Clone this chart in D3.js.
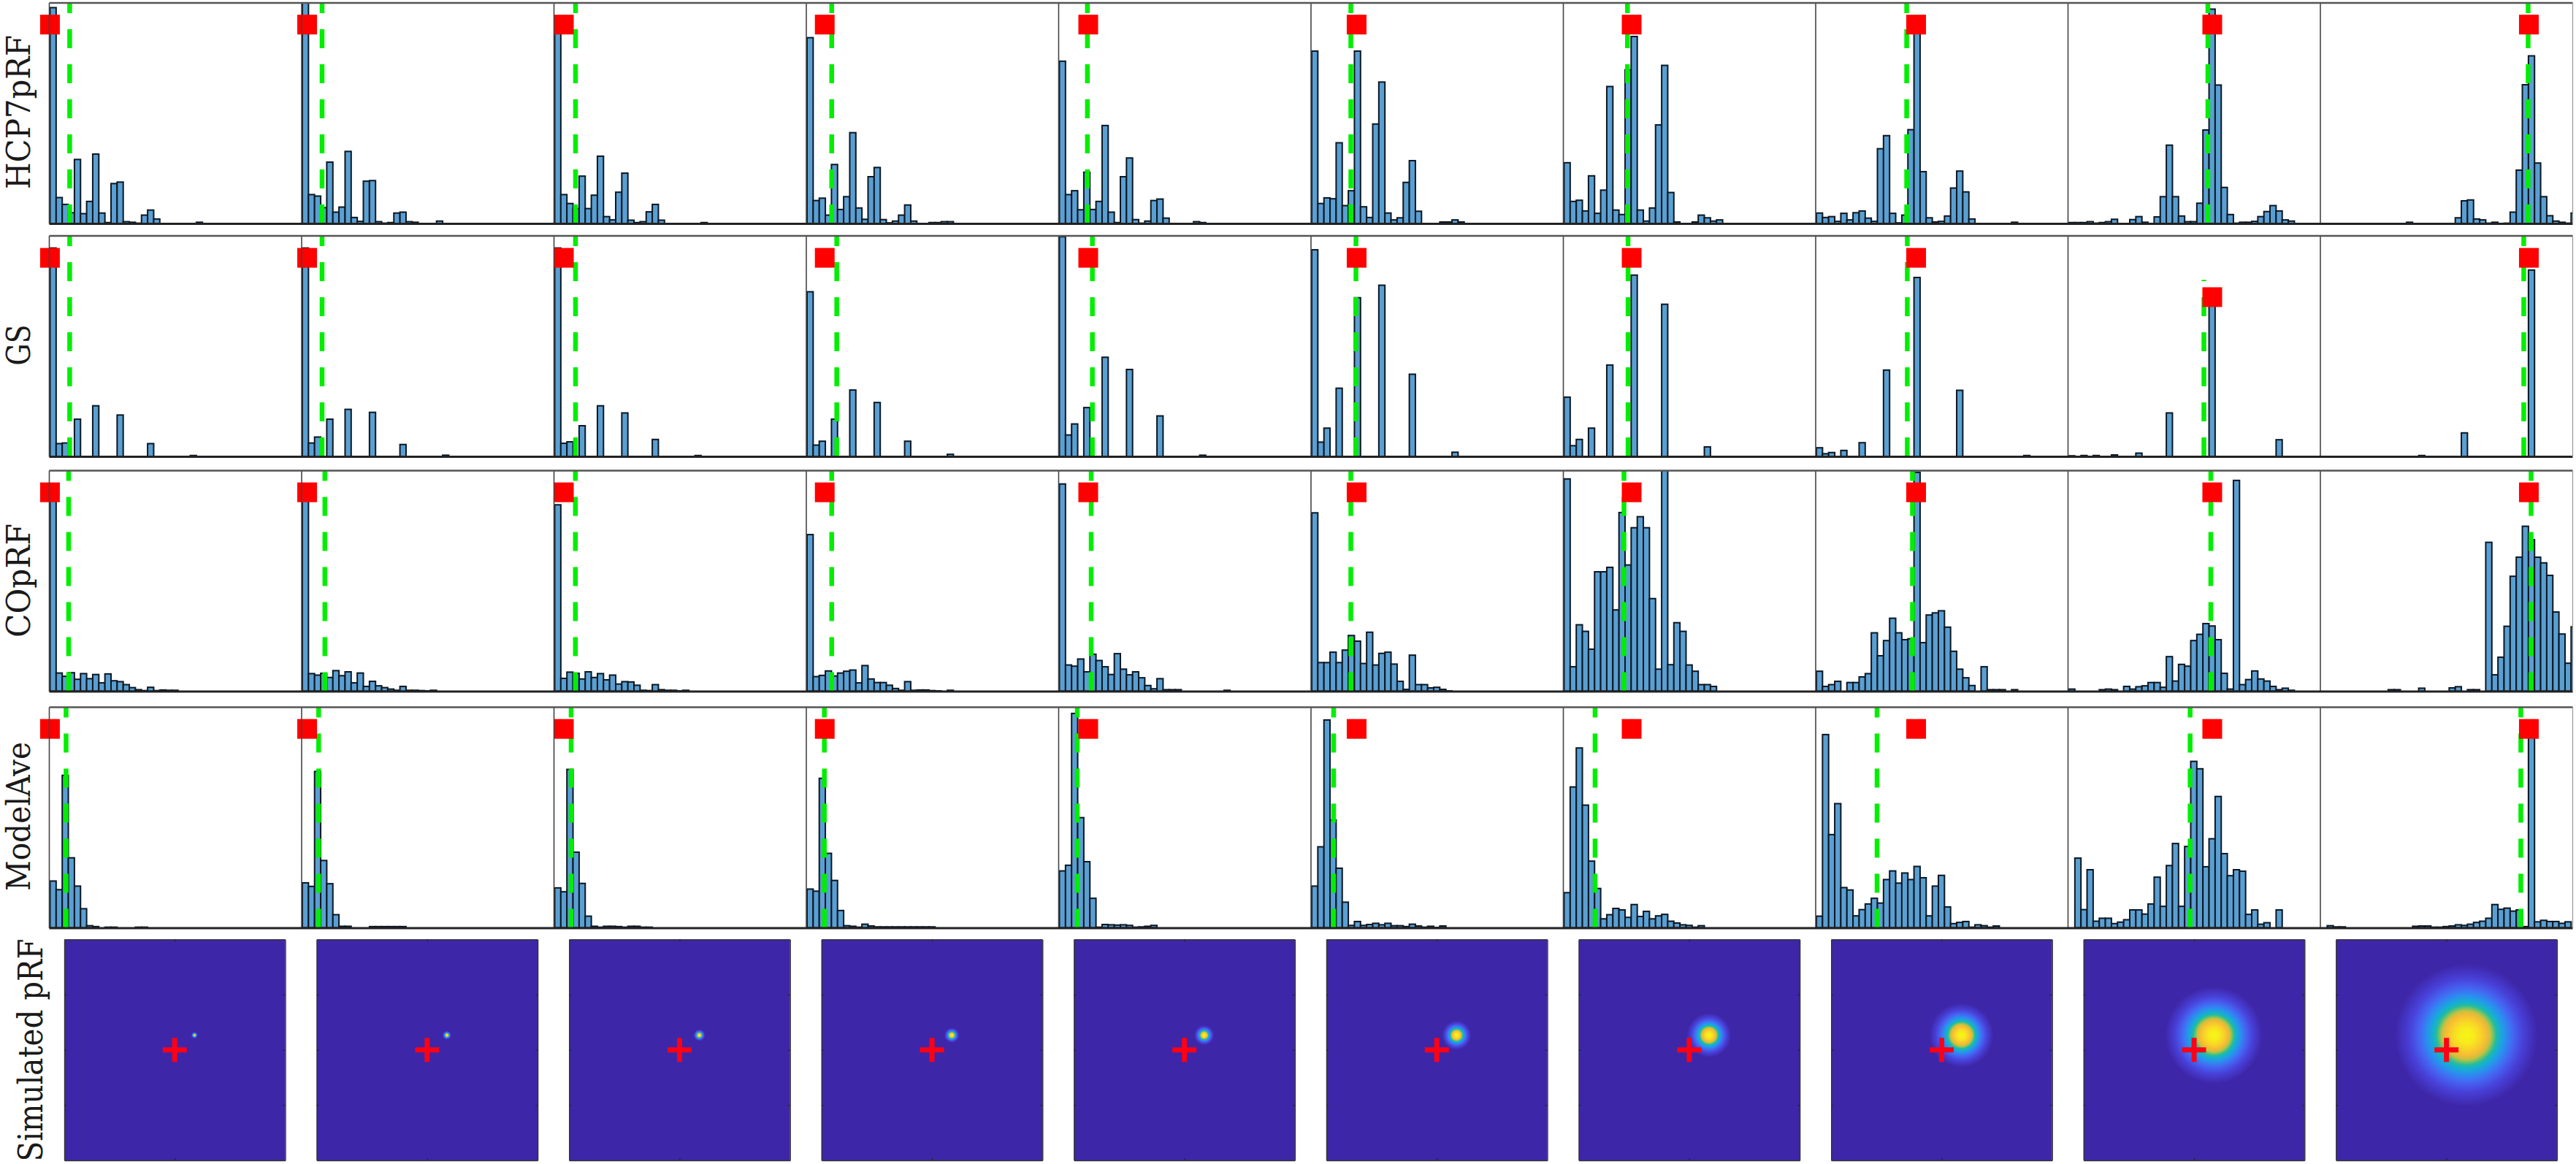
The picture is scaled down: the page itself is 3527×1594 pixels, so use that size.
<!DOCTYPE html>
<html>
<head>
<meta charset="utf-8">
<script src="https://cdn.jsdelivr.net/npm/d3@7"></script>
<style>
  html, body { margin: 0; padding: 0; background: #fff; }
  svg { display: block; }
</style>
</head>
<body>
<div id="chart"></div>
<script>
const rowNames = ["HCP7pRF", "GS", "COpRF", "ModelAve"];
const prfLabel = "Simulated pRF";

// histogram counts per panel, bin 0 first, trailing empty bins left out
const hcpBars = [
  [725,87,64,36,215,33,74,233,35,3,134,139,6,4,1,28,45,15,0,0,0,0,0,0,4],
  [760,97,92,53,206,38,55,242,20,7,142,144,6,1,3,35,38,6,4,0,0,0,8],
  [660,97,67,50,159,50,95,226,23,12,105,169,11,3,6,39,64,11,0,0,0,0,0,0,3],
  [624,77,85,28,198,47,90,305,52,14,157,188,13,2,8,28,62,8,0,0,3,3,6,6],
  [545,97,110,46,172,47,74,329,38,3,157,220,13,1,8,77,82,18,0,0,0,0,6,3],
  [579,67,86,83,271,60,110,579,56,20,334,475,35,12,19,138,211,41,0,0,0,5,5,12,5],
  [204,74,78,42,160,34,112,460,45,30,516,628,45,8,52,331,531,104,5,0,0,5,28,19,8,12],
  [35,20,23,7,34,12,36,42,18,7,251,295,34,2,28,315,670,174,19,5,7,25,119,176,106,15,0,0,0,0,0,0,4],
  [3,3,3,6,1,3,6,14,0,0,13,23,4,0,22,90,263,90,25,6,6,68,314,720,465,121,30,1,4,4,7,23,40,60,42,12,8],
  [0,0,0,0,0,0,0,0,0,0,0,0,0,0,4,0,0,0,0,0,0,0,19,76,79,15,12,1,4,0,1,38,179,466,563,203,90,26,8,4,1,35]
];

const gsBins = [0, 1, 2, 4, 7, 11, 16, 23, 34];
const gsBars = [
  [700,43,45,125,170,139,43,3,0],
  [700,45,65,125,158,148,40,4,0],
  [700,44,49,103,170,146,57,3,0],
  [553,38,51,125,223,181,51,7,0],
  [738,72,109,164,333,292,136,4,0],
  [694,48,95,229,533,575,276,14,0],
  [199,36,57,95,307,609,511,32,0],
  [29,9,13,20,46,290,601,222,3],
  [2,0,3,3,5,11,146,540,56],
  [0,0,0,0,0,0,3,79,626]
];

const coBars = [
  [660,61,50,62,40,59,42,56,28,58,35,32,22,12,5,2,13,2,4,3,3],
  [660,59,54,60,46,69,52,65,28,61,16,33,18,12,7,3,16,3,3,2,1,3],
  [626,43,64,60,41,65,46,59,38,54,24,32,31,20,3,2,22,5,3,3,1,3],
  [526,49,53,68,51,61,67,71,28,86,41,29,29,20,9,3,32,3,4,4,2,1,0,3],
  [696,88,84,108,65,124,103,82,56,126,74,55,65,45,19,8,42,5,5,5,0,0,0,0,0,0,0,3],
  [599,96,96,131,96,138,187,168,93,198,88,127,131,91,33,6,121,22,22,11,13,6,1],
  [713,82,223,201,141,401,401,416,273,600,424,549,586,549,311,74,743,89,230,201,88,67,22,22,16],
  [67,16,22,33,0,29,29,48,59,196,119,170,245,196,173,176,735,163,256,263,270,215,134,74,45,19,0,82,5,5,5,0,5],
  [7,0,0,0,0,5,7,5,0,16,7,15,18,29,29,13,116,34,90,84,170,191,227,219,173,60,7,708,22,39,68,41,34,16,5,10,3],
  [0,0,0,0,0,0,0,0,0,0,0,5,5,0,0,0,10,0,0,0,0,11,15,0,5,5,0,500,55,114,218,386,450,554,509,450,431,389,266,192,94,216]
];

const maBars = [
  [157,128,512,235,140,64,7,4,0,2,2,0,0,0,2,2],
  [151,139,525,226,148,44,5,5,0,0,0,4,4,4,4,4,4],
  [134,121,532,254,149,39,5,2,5,5,4,2,5,5,2,2],
  [130,123,502,250,159,58,7,5,2,12,6,3,3,3,3,3,3,3,3,3,3],
  [191,210,720,370,222,99,2,11,10,9,10,8,2,3,5,8],
  [140,272,698,362,200,86,8,21,8,11,15,10,15,7,7,4,12,6,2,5,1,6],
  [118,473,604,412,224,132,30,44,65,60,35,78,38,55,30,40,45,22,16,10,8,2,7],
  [39,649,313,417,135,127,40,61,80,99,83,162,191,150,184,162,206,168,40,140,176,70,14,18,21,2,10,7,2,6],
  [0,234,61,195,22,32,32,14,19,27,60,60,46,80,170,72,209,283,72,273,559,534,205,299,441,249,175,195,190,45,60,12,17,0,60],
  [0,7,3,3,0,0,0,0,0,0,0,0,0,0,0,5,6,6,2,2,4,6,10,8,12,18,22,32,78,62,66,56,60,4,650,20,25,21,21,15,20]
];

// dashed green estimate and red true position, in bin units
const greenX = [
  [3.4,3.41,3.59,4.22,4.77,6.59,10.57,14.98,22.99,34.13],
  [3.4,3.41,3.59,5.05,5.59,7.43,10.67,15.08,22.34,33.41],
  [3.23,3.87,3.57,4.22,5.39,6.59,10,15.93,23.47,34.61],
  [2.81,2.85,2.87,3.02,3.11,3.77,5.26,10.12,20.08,32.93]
];
const greenTop = [
  [742,742,742,742,742,742,742,742,742,742],
  [742,742,742,742,742,742,742,742,593,742],
  [742,742,742,742,742,742,742,742,742,742],
  [742,742,742,742,742,742,742,742,742,742]
];
const redX = [0.17,0.96,1.68,3.08,4.91,7.54,11.26,16.53,23.71,34.25];
const redY = [
  [668,668,668,668,668,668,668,668,668,668],
  [667,667,667,667,667,667,667,667,535,667],
  [668,668,668,668,668,668,668,668,668,668],
  [668,668,668,668,668,668,668,668,668,668]
];

// simulated pRF radius per column, visual degrees
const prfRadius = [0.3,0.4,0.53,0.68,0.9,1.32,2,2.9,4.4,6.45];
const prfCenter = [1.79, 1.33];
const ramp = [0,0.1,0.2,0.28,0.34,0.38,0.42,0.47,0.55,0.66,0.8,1];
const rampColors = ["#f5f515","#f7ec1c","#f8d428","#f7bc33","#c8c040","#70c468","#25bb9f","#15b0cf","#2a90ef","#4565f2","#4840d8","#3e26a8"];

const rowTop = [3.5, 322.5, 644, 968];
const panelW = 345.5, panelH = 302.5;
const imgTop = 1286.5, imgSize = 302.5;

const svg = d3.select("#chart").append("svg").attr("width", 3527).attr("height", 1594);
const defs = svg.append("defs");

const colX = d3.scaleLinear().domain([0, 10]).range([67, 3522]);
const imgX = d3.scaleLinear().domain([0, 10]).range([88, 3544]);
const x = d3.scaleLinear().domain([0, 41.38]).range([0, panelW]);
const y = d3.scaleLinear().domain([0, 742]).range([panelH, 0]);
const binOffset = 0.18;

const gsFull = gsBars.map((vals) => {
  const out = [];
  gsBins.forEach((b, i) => { out[b] = vals[i]; });
  return Array.from(out, (d) => d || 0);
});
const allBars = [hcpBars, gsFull, coBars, maBars];

allBars.forEach((rowBars, r) => {
  const rowG = svg.append("g").attr("transform", `translate(0, ${rowTop[r]})`);

  rowBars.forEach((counts, c) => {
    const g = rowG.append("g").attr("transform", `translate(${colX(c)}, 0)`);
    const clipped = g.append("g").attr("clip-path", `url(#panel${r}${c})`);
    defs.append("clipPath").attr("id", `panel${r}${c}`)
      .append("rect").attr("width", panelW).attr("height", panelH);

    clipped.selectAll("rect")
      .data(counts.map((v, i) => ({ i, v })).filter((d) => d.v > 0))
      .enter()
      .append("rect")
      .attr("x", (d) => x(d.i + binOffset))
      .attr("y", (d) => y(d.v))
      .attr("width", x(1))
      .attr("height", (d) => panelH - y(d.v))
      .attr("fill", "#5a9fd2")
      .attr("stroke", "#0c1722")
      .attr("stroke-width", 2);

    g.append("rect")
      .attr("x", x(redX[c]) - 13.5)
      .attr("y", y(redY[r][c]) - 13.5)
      .attr("width", 27)
      .attr("height", 27)
      .attr("fill", "#ff0000");

    clipped.append("line")
      .attr("x1", x(greenX[r][c]))
      .attr("x2", x(greenX[r][c]))
      .attr("y1", y(0))
      .attr("y2", y(greenTop[r][c]))
      .attr("stroke", "#00ee00")
      .attr("stroke-width", 6.5)
      .attr("stroke-dasharray", "26 22");

    const left = g.append("g").call(d3.axisLeft(y).tickValues([]).tickSizeOuter(0));
    left.select("path").attr("stroke", "#444").attr("stroke-width", 1.6);
  });

  const wide = d3.scaleLinear().domain([0, 1]).range([colX(0), colX(10)]);
  const topAxis = rowG.append("g").call(d3.axisTop(wide).tickValues([]).tickSizeOuter(0));
  topAxis.select("path").attr("stroke", "#555").attr("stroke-width", 2.4);
  const bottomAxis = rowG.append("g").attr("transform", `translate(0, ${panelH})`)
    .call(d3.axisBottom(wide).tickValues([]).tickSizeOuter(0));
  bottomAxis.select("path").attr("stroke", "#222").attr("stroke-width", 3);
  const rightAxis = rowG.append("g").attr("transform", `translate(${colX(10)}, 0)`)
    .call(d3.axisRight(y).tickValues([]).tickSizeOuter(0));
  rightAxis.select("path").attr("stroke", "#999").attr("stroke-width", 1.2);
});

// bottom row, one parula blob per column
const grad = defs.append("radialGradient").attr("id", "parula");
ramp.forEach((offset, i) => {
  grad.append("stop").attr("offset", offset).attr("stop-color", rampColors[i]);
});

const fx = d3.scaleLinear().domain([-10, 10]).range([0, imgSize]);
const fy = d3.scaleLinear().domain([10, -10]).range([0, imgSize]);
const fr = d3.scaleLinear().domain([0, 20]).range([0, imgSize]);

prfRadius.forEach((radius, c) => {
  const g = svg.append("g").attr("transform", `translate(${imgX(c)}, ${imgTop})`);
  g.append("rect").attr("width", imgSize).attr("height", imgSize).attr("fill", "#3e26a8");
  g.append("circle")
    .attr("cx", fx(prfCenter[0]))
    .attr("cy", fy(prfCenter[1]))
    .attr("r", fr(radius))
    .attr("fill", "url(#parula)");

  const arm = 1.09;
  g.append("line").attr("x1", fx(-arm)).attr("x2", fx(arm)).attr("y1", fy(0)).attr("y2", fy(0))
    .attr("stroke", "#ff0016").attr("stroke-width", 7);
  g.append("line").attr("x1", fx(0)).attr("x2", fx(0)).attr("y1", fy(-arm)).attr("y2", fy(arm))
    .attr("stroke", "#ff0016").attr("stroke-width", 7);

  const axes = [
    [d3.axisTop(fx).tickValues([0]), 0, 0],
    [d3.axisBottom(fx).tickValues([0]), 0, imgSize],
    [d3.axisLeft(fy).tickValues([-5, 0, 5]), 0, 0],
    [d3.axisRight(fy).tickValues([-5, 0, 5]), imgSize, 0]
  ];
  axes.forEach(([axis, tx, ty]) => {
    const a = g.append("g").attr("transform", `translate(${tx}, ${ty})`)
      .call(axis.tickSize(-3).tickSizeOuter(0).tickFormat(""));
    a.select("path").attr("stroke", "#333").attr("stroke-width", 1.4);
    a.selectAll("line").attr("stroke", "#222");
  });
});

// rotated row labels
const labelSpec = [
  { text: rowNames[0], cy: 153.5, len: 211, bx: 41, size: 44 },
  { text: rowNames[1], cy: 472.5, len: 56, bx: 41, size: 44 },
  { text: rowNames[2], cy: 795, len: 156, bx: 41, size: 44 },
  { text: rowNames[3], cy: 1118, len: 204, bx: 41, size: 44 },
  { text: prfLabel, cy: 1438, len: 305, bx: 58, size: 46 }
];
svg.selectAll("text.rowlabel")
  .data(labelSpec)
  .enter()
  .append("text")
  .attr("class", "rowlabel")
  .attr("transform", (d) => `translate(${d.bx}, ${d.cy}) rotate(-90)`)
  .attr("text-anchor", "middle")
  .attr("font-family", "'DejaVu Serif', serif")
  .attr("font-size", (d) => d.size)
  .attr("fill", "#1a1a1a")
  .attr("textLength", (d) => d.len)
  .attr("lengthAdjust", "spacingAndGlyphs")
  .text((d) => d.text);
</script>
</body>
</html>
